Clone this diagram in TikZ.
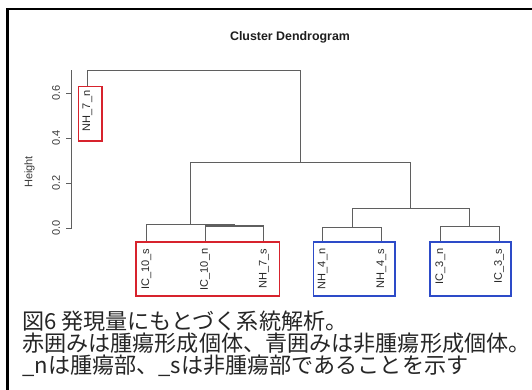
\documentclass[tikz,border=0pt]{standalone}
\usepackage{fontspec}
\setmainfont{Liberation Sans}
\newfontfamily\cjk{Noto Sans CJK JP}
\definecolor{dgray}{RGB}{95,95,95}
\definecolor{labgray}{RGB}{40,40,40}
\definecolor{tickgray}{RGB}{60,60,60}
\definecolor{titlecol}{RGB}{30,30,30}
\definecolor{boxred}{RGB}{215,35,45}
\definecolor{boxblue}{RGB}{45,75,200}
\begin{document}
\begin{tikzpicture}[x=1pt,y=-1pt,
  dend/.style={draw=dgray, line width=1.1pt},
  leaflab/.style={rotate=90, anchor=east, inner sep=0pt, font=\fontsize{11}{11}\selectfont, text=labgray},
  ticklab/.style={rotate=90, inner sep=0pt, font=\fontsize{11}{11}\selectfont, text=tickgray},
  redbox/.style={draw=boxred, line width=1.6pt, inner sep=0pt},
  bluebox/.style={draw=boxblue, line width=1.6pt, inner sep=0pt},
  captext/.style={anchor=base west, inner sep=0pt, font=\cjk\fontsize{22.1}{22.1}\selectfont, text=black!85},
]
\useasboundingbox (0,0) rectangle (532,390);
\fill[white] (0,0) rectangle (532,390);
% frame
\coordinate (fc) at (7.5,9);
\coordinate (ftr) at (533,9);
\coordinate (fbl) at (7.5,391);
\draw[line width=2.5pt] (ftr) -- (fc) -- (fbl);
% title
\node[font=\bfseries\fontsize{12.4}{12.4}\selectfont, text=titlecol] (title) at (290,37) {Cluster Dendrogram};
% axis
\coordinate (ax0) at (71.5,228.3);
\coordinate (axtop) at (71.5,70.5);
\draw[dend] (ax0) -- (axtop);
\foreach \i/\h/\y in {0/0.0/228.3,1/0.2/183.3,2/0.4/138.3,3/0.6/93.3}{
  \coordinate (tk\i) at (71.5,\y);
  \coordinate (tl\i) at (65.5,\y);
  \draw[dend] (tk\i) -- (tl\i);
  \node[ticklab] (tn\i) at (56,\y) {\h};
}
\node[ticklab] (ylab) at (29.5,172) {Height};
% leaves
\coordinate (l1) at (87.5,86.7);
\coordinate (l2) at (146.3,242);
\coordinate (l3) at (205.1,242);
\coordinate (l4) at (263.9,242);
\coordinate (l5) at (322.7,242);
\coordinate (l6) at (381.5,242);
\coordinate (l7) at (440.3,242);
\coordinate (l8) at (499.1,242);
% merges
\coordinate (m34) at (234.5,226);
\coordinate (m234) at (190.4,224.3);
\coordinate (m56) at (352.1,227.3);
\coordinate (m78) at (469.7,226.7);
\coordinate (m5678) at (410.9,208.5);
\coordinate (mmid) at (300.65,162.3);
\coordinate (mtop) at (194.1,70.5);
\draw[dend] (l3) |- (m34) -| (l4);
\draw[dend] (l2) |- (m234) -| (m34);
\draw[dend] (l5) |- (m56) -| (l6);
\draw[dend] (l7) |- (m78) -| (l8);
\draw[dend] (m56) |- (m5678) -| (m78);
\draw[dend] (m234) |- (mmid) -| (m5678);
\draw[dend] (l1) |- (mtop) -| (mmid);
% leaf labels
\node[leaflab] (t1) at (87.5,90.5) {NH\_7\_n};
\node[leaflab] (t2) at (146.3,248.5) {IC\_10\_s};
\node[leaflab] (t3) at (205.1,248.5) {IC\_10\_n};
\node[leaflab] (t4) at (263.9,248.5) {NH\_7\_s};
\node[leaflab] (t5) at (322.7,248.5) {NH\_4\_n};
\node[leaflab] (t6) at (381.5,248.5) {NH\_4\_s};
\node[leaflab] (t7) at (440.3,248.5) {IC\_3\_n};
\node[leaflab] (t8) at (499.1,248.5) {IC\_3\_s};
% boxes
\node[redbox, minimum width=23.4pt, minimum height=54.3pt] (b1) at (90,113.85) {};
\node[redbox, minimum width=143.5pt, minimum height=54pt] (b2) at (207.75,269) {};
\node[bluebox, minimum width=81.6pt, minimum height=54pt] (b3) at (354.2,269) {};
\node[bluebox, minimum width=81pt, minimum height=54pt] (b4) at (470.5,269) {};
% caption
\node[captext] (c1) at (22,329.3) {図6 発現量にもとづく系統解析。};
\node[captext] (c2) at (22,351.6) {赤囲みは腫瘍形成個体、青囲みは非腫瘍形成個体。};
\node[captext] (c3) at (22,373.3) {\_nは腫瘍部、\_sは非腫瘍部であることを示す};
\end{tikzpicture}
\end{document}
